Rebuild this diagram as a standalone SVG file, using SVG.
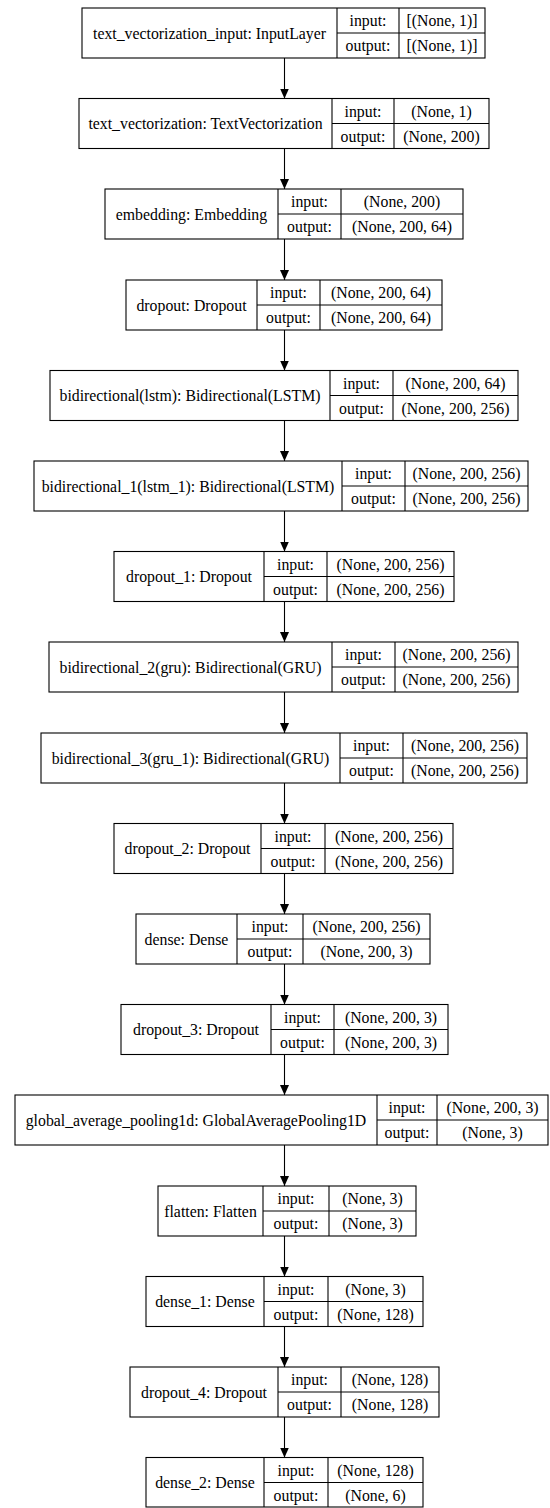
<svg xmlns="http://www.w3.org/2000/svg" width="550" height="1508" viewBox="0 0 550 1508">
<style>
.b{fill:#fff;stroke:#000;stroke-width:1.1}
.l{stroke:#000;stroke-width:1.1}
.t text{font-family:'Liberation Serif','Times New Roman',Times,serif;font-size:15.8px;fill:#000;text-anchor:middle}
.e{stroke:#000;stroke-width:1.1;fill:none}
</style>
<defs>
<marker id="ah" markerUnits="userSpaceOnUse" markerWidth="10" markerHeight="10" refX="10" refY="5" orient="auto">
<path d="M0,0.5 L10,5 L0,9.5 z" fill="#000"/>
</marker>
</defs>
<rect width="550" height="1508" fill="#fff"/>
<g id="connectors">
<line class="e" x1="284.5" y1="58" x2="284.5" y2="98.5" marker-end="url(#ah)"/>
<line class="e" x1="284.5" y1="148.5" x2="284.5" y2="189" marker-end="url(#ah)"/>
<line class="e" x1="284.5" y1="239" x2="284.5" y2="280" marker-end="url(#ah)"/>
<line class="e" x1="284.5" y1="330" x2="284.5" y2="370.5" marker-end="url(#ah)"/>
<line class="e" x1="284.5" y1="420.5" x2="284.5" y2="461" marker-end="url(#ah)"/>
<line class="e" x1="284.5" y1="511" x2="284.5" y2="551.5" marker-end="url(#ah)"/>
<line class="e" x1="284.5" y1="601.5" x2="284.5" y2="642" marker-end="url(#ah)"/>
<line class="e" x1="284.5" y1="692" x2="284.5" y2="733" marker-end="url(#ah)"/>
<line class="e" x1="284.5" y1="783" x2="284.5" y2="823.5" marker-end="url(#ah)"/>
<line class="e" x1="284.5" y1="873.5" x2="284.5" y2="914" marker-end="url(#ah)"/>
<line class="e" x1="284.5" y1="964" x2="284.5" y2="1004.5" marker-end="url(#ah)"/>
<line class="e" x1="284.5" y1="1054.5" x2="284.5" y2="1095" marker-end="url(#ah)"/>
<line class="e" x1="284.5" y1="1145" x2="284.5" y2="1186" marker-end="url(#ah)"/>
<line class="e" x1="284.5" y1="1236" x2="284.5" y2="1276.5" marker-end="url(#ah)"/>
<line class="e" x1="284.5" y1="1326.5" x2="284.5" y2="1367" marker-end="url(#ah)"/>
<line class="e" x1="284.5" y1="1417" x2="284.5" y2="1457.5" marker-end="url(#ah)"/>
</g>
<g class="t" font-family="Liberation Serif, serif" font-size="15.8">
<g id="n1">
<rect class="b" x="82" y="8" width="403" height="50"/>
<line class="l" x1="337" y1="8" x2="337" y2="58"/><line class="l" x1="399" y1="8" x2="399" y2="58"/><line class="l" x1="337" y1="33" x2="485" y2="33"/>
<text x="209.5" y="38.5">text_vectorization_input: InputLayer</text>
<text x="368" y="26">input:</text><text x="368" y="51">output:</text>
<text x="442" y="26">[(None, 1)]</text><text x="442" y="51">[(None, 1)]</text>
</g>
<g id="n2">
<rect class="b" x="79" y="98.5" width="410" height="50"/>
<line class="l" x1="332" y1="98.5" x2="332" y2="148.5"/><line class="l" x1="394" y1="98.5" x2="394" y2="148.5"/><line class="l" x1="332" y1="123.5" x2="489" y2="123.5"/>
<text x="205.5" y="129">text_vectorization: TextVectorization</text>
<text x="363" y="116.5">input:</text><text x="363" y="141.5">output:</text>
<text x="441.5" y="116.5">(None, 1)</text><text x="441.5" y="141.5">(None, 200)</text>
</g>
<g id="n3">
<rect class="b" x="105" y="189" width="358" height="50"/>
<line class="l" x1="278" y1="189" x2="278" y2="239"/><line class="l" x1="341" y1="189" x2="341" y2="239"/><line class="l" x1="278" y1="214" x2="463" y2="214"/>
<text x="191.5" y="219.5">embedding: Embedding</text>
<text x="309.5" y="207">input:</text><text x="309.5" y="232">output:</text>
<text x="402" y="207">(None, 200)</text><text x="402" y="232">(None, 200, 64)</text>
</g>
<g id="n4">
<rect class="b" x="126" y="280" width="316" height="50"/>
<line class="l" x1="257" y1="280" x2="257" y2="330"/><line class="l" x1="320" y1="280" x2="320" y2="330"/><line class="l" x1="257" y1="305" x2="442" y2="305"/>
<text x="191.5" y="310.5">dropout: Dropout</text>
<text x="288.5" y="298">input:</text><text x="288.5" y="323">output:</text>
<text x="381" y="298">(None, 200, 64)</text><text x="381" y="323">(None, 200, 64)</text>
</g>
<g id="n5">
<rect class="b" x="50" y="370.5" width="468" height="50"/>
<line class="l" x1="330" y1="370.5" x2="330" y2="420.5"/><line class="l" x1="393" y1="370.5" x2="393" y2="420.5"/><line class="l" x1="330" y1="395.5" x2="518" y2="395.5"/>
<text x="190" y="401">bidirectional(lstm): Bidirectional(LSTM)</text>
<text x="361.5" y="388.5">input:</text><text x="361.5" y="413.5">output:</text>
<text x="455.5" y="388.5">(None, 200, 64)</text><text x="455.5" y="413.5">(None, 200, 256)</text>
</g>
<g id="n6">
<rect class="b" x="34" y="461" width="494" height="50"/>
<line class="l" x1="342" y1="461" x2="342" y2="511"/><line class="l" x1="405" y1="461" x2="405" y2="511"/><line class="l" x1="342" y1="486" x2="528" y2="486"/>
<text x="188" y="491.5">bidirectional_1(lstm_1): Bidirectional(LSTM)</text>
<text x="373.5" y="479">input:</text><text x="373.5" y="504">output:</text>
<text x="466.5" y="479">(None, 200, 256)</text><text x="466.5" y="504">(None, 200, 256)</text>
</g>
<g id="n7">
<rect class="b" x="114" y="551.5" width="340" height="50"/>
<line class="l" x1="264" y1="551.5" x2="264" y2="601.5"/><line class="l" x1="327" y1="551.5" x2="327" y2="601.5"/><line class="l" x1="264" y1="576.5" x2="454" y2="576.5"/>
<text x="189" y="582">dropout_1: Dropout</text>
<text x="295.5" y="569.5">input:</text><text x="295.5" y="594.5">output:</text>
<text x="390.5" y="569.5">(None, 200, 256)</text><text x="390.5" y="594.5">(None, 200, 256)</text>
</g>
<g id="n8">
<rect class="b" x="49" y="642" width="469" height="50"/>
<line class="l" x1="332" y1="642" x2="332" y2="692"/><line class="l" x1="395" y1="642" x2="395" y2="692"/><line class="l" x1="332" y1="667" x2="518" y2="667"/>
<text x="190.5" y="672.5">bidirectional_2(gru): Bidirectional(GRU)</text>
<text x="363.5" y="660">input:</text><text x="363.5" y="685">output:</text>
<text x="456.5" y="660">(None, 200, 256)</text><text x="456.5" y="685">(None, 200, 256)</text>
</g>
<g id="n9">
<rect class="b" x="41" y="733" width="486" height="50"/>
<line class="l" x1="340" y1="733" x2="340" y2="783"/><line class="l" x1="403" y1="733" x2="403" y2="783"/><line class="l" x1="340" y1="758" x2="527" y2="758"/>
<text x="190.5" y="763.5">bidirectional_3(gru_1): Bidirectional(GRU)</text>
<text x="371.5" y="751">input:</text><text x="371.5" y="776">output:</text>
<text x="465" y="751">(None, 200, 256)</text><text x="465" y="776">(None, 200, 256)</text>
</g>
<g id="n10">
<rect class="b" x="114" y="823.5" width="339" height="50"/>
<line class="l" x1="261" y1="823.5" x2="261" y2="873.5"/><line class="l" x1="325" y1="823.5" x2="325" y2="873.5"/><line class="l" x1="261" y1="848.5" x2="453" y2="848.5"/>
<text x="187.5" y="854">dropout_2: Dropout</text>
<text x="293" y="841.5">input:</text><text x="293" y="866.5">output:</text>
<text x="389" y="841.5">(None, 200, 256)</text><text x="389" y="866.5">(None, 200, 256)</text>
</g>
<g id="n11">
<rect class="b" x="136" y="914" width="294" height="50"/>
<line class="l" x1="237" y1="914" x2="237" y2="964"/><line class="l" x1="303" y1="914" x2="303" y2="964"/><line class="l" x1="237" y1="939" x2="430" y2="939"/>
<text x="186.5" y="944.5">dense: Dense</text>
<text x="270" y="932">input:</text><text x="270" y="957">output:</text>
<text x="366.5" y="932">(None, 200, 256)</text><text x="366.5" y="957">(None, 200, 3)</text>
</g>
<g id="n12">
<rect class="b" x="121" y="1004.5" width="327" height="50"/>
<line class="l" x1="271" y1="1004.5" x2="271" y2="1054.5"/><line class="l" x1="334" y1="1004.5" x2="334" y2="1054.5"/><line class="l" x1="271" y1="1029.5" x2="448" y2="1029.5"/>
<text x="196" y="1035">dropout_3: Dropout</text>
<text x="302.5" y="1022.5">input:</text><text x="302.5" y="1047.5">output:</text>
<text x="391" y="1022.5">(None, 200, 3)</text><text x="391" y="1047.5">(None, 200, 3)</text>
</g>
<g id="n13">
<rect class="b" x="15" y="1095" width="533" height="50"/>
<line class="l" x1="377" y1="1095" x2="377" y2="1145"/><line class="l" x1="437" y1="1095" x2="437" y2="1145"/><line class="l" x1="377" y1="1120" x2="548" y2="1120"/>
<text x="196" y="1125.5">global_average_pooling1d: GlobalAveragePooling1D</text>
<text x="407" y="1113">input:</text><text x="407" y="1138">output:</text>
<text x="492.5" y="1113">(None, 200, 3)</text><text x="492.5" y="1138">(None, 3)</text>
</g>
<g id="n14">
<rect class="b" x="158" y="1186" width="258" height="50"/>
<line class="l" x1="263" y1="1186" x2="263" y2="1236"/><line class="l" x1="329" y1="1186" x2="329" y2="1236"/><line class="l" x1="263" y1="1211" x2="416" y2="1211"/>
<text x="210.5" y="1216.5">flatten: Flatten</text>
<text x="296" y="1204">input:</text><text x="296" y="1229">output:</text>
<text x="372.5" y="1204">(None, 3)</text><text x="372.5" y="1229">(None, 3)</text>
</g>
<g id="n15">
<rect class="b" x="146" y="1276.5" width="277" height="50"/>
<line class="l" x1="264" y1="1276.5" x2="264" y2="1326.5"/><line class="l" x1="328" y1="1276.5" x2="328" y2="1326.5"/><line class="l" x1="264" y1="1301.5" x2="423" y2="1301.5"/>
<text x="205" y="1307">dense_1: Dense</text>
<text x="296" y="1294.5">input:</text><text x="296" y="1319.5">output:</text>
<text x="375.5" y="1294.5">(None, 3)</text><text x="375.5" y="1319.5">(None, 128)</text>
</g>
<g id="n16">
<rect class="b" x="130" y="1367" width="309" height="50"/>
<line class="l" x1="278" y1="1367" x2="278" y2="1417"/><line class="l" x1="341" y1="1367" x2="341" y2="1417"/><line class="l" x1="278" y1="1392" x2="439" y2="1392"/>
<text x="204" y="1397.5">dropout_4: Dropout</text>
<text x="309.5" y="1385">input:</text><text x="309.5" y="1410">output:</text>
<text x="390" y="1385">(None, 128)</text><text x="390" y="1410">(None, 128)</text>
</g>
<g id="n17">
<rect class="b" x="146" y="1457.5" width="277" height="49.5"/>
<line class="l" x1="264" y1="1457.5" x2="264" y2="1507"/><line class="l" x1="328" y1="1457.5" x2="328" y2="1507"/><line class="l" x1="264" y1="1482.5" x2="423" y2="1482.5"/>
<text x="205" y="1488">dense_2: Dense</text>
<text x="296" y="1475.5">input:</text><text x="296" y="1500.5">output:</text>
<text x="375.5" y="1475.5">(None, 128)</text><text x="375.5" y="1500.5">(None, 6)</text>
</g>
</g>
</svg>
